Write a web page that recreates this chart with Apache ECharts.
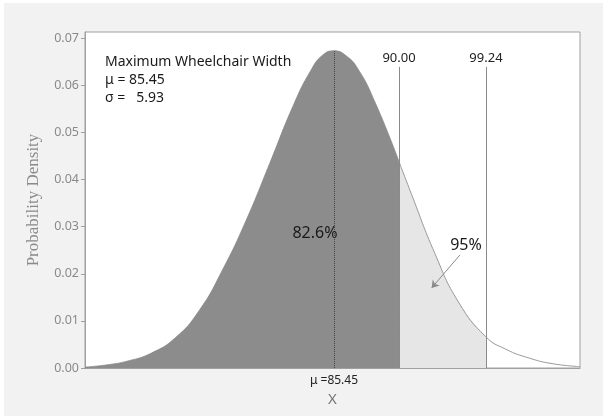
<!DOCTYPE html>
<html><head><meta charset="utf-8">
<script src="https://cdn.jsdelivr.net/npm/echarts@6/dist/echarts.min.js"></script>
<style>
html,body{margin:0;padding:0;background:#ffffff;}
#c{position:absolute;left:4px;top:3px;width:599px;height:413px;}
</style></head>
<body><div id="c"></div>
<script>
// Curve: x (data units) and probability density
const curveX = [64.35, 66, 68, 70, 72, 74, 76, 78, 80, 82, 83.5, 84.5, 85.45, 86.4, 87.5, 89, 90.96, 92, 94, 96, 98.33, 100, 102, 104, 106.30];
const curveY = [0.0002, 0.0006, 0.0015, 0.0032, 0.0064, 0.0121, 0.0208, 0.0313, 0.0434, 0.0557, 0.0632, 0.0664, 0.0673, 0.0664, 0.0634, 0.0560, 0.0438, 0.0370, 0.0243, 0.0140, 0.0066, 0.0040, 0.0021, 0.0009, 0.0003];
const mu = 85.45;
const peak = 0.0673;
const lineXs = [90.96, 98.33];
const lineLabels = ['90.00', '99.24'];
const lineTop = 0.0639;
const yTicks = [0, 0.01, 0.02, 0.03, 0.04, 0.05, 0.06, 0.07];
const infoLines = ['Maximum Wheelchair Width', 'μ = 85.45', 'σ =   5.93'];
const pctLeft = {x: 83.84, y: 0.0286, text: '82.6%'};
const pctRight = {x: 96.64, y: 0.0261, text: '95%'};
const arrowFrom = [96.13, 0.0240];
const arrowTo = [93.73, 0.0170];
const xMin = 64.35, xMax = 106.30, yMax = 0.0713;

const pts = curveX.map((x, i) => [x, curveY[i]]);
const darkPts = pts.filter(p => p[0] <= lineXs[0]);
const lightPts = pts.filter(p => p[0] >= lineXs[0] && p[0] <= lineXs[1]);
const rightPts = pts.filter(p => p[0] >= lineXs[0]);

const FONT = 'Noto Sans';
const chart = echarts.init(document.getElementById('c'));
chart.setOption({
  backgroundColor: '#f2f2f2',
  animation: false,
  title: {
    text: infoLines.join('\n'),
    left: 101, top: 50, padding: 0,
    textStyle: {fontFamily: FONT, fontSize: 14, fontWeight: 'normal', color: '#1a1a1a', lineHeight: 18}
  },
  grid: {left: 81, top: 29, right: 23, bottom: 48, show: true, backgroundColor: '#ffffff', borderColor: '#a0a0a0', borderWidth: 1},
  xAxis: {
    type: 'value', min: xMin, max: xMax,
    name: 'X', nameLocation: 'middle', nameGap: 23,
    nameTextStyle: {fontFamily: FONT, fontSize: 15, color: '#777777'},
    axisLine: {lineStyle: {color: '#a0a0a0'}},
    axisTick: {show: false},
    splitLine: {show: false},
    axisLabel: {customValues: [mu], formatter: () => 'μ =85.45', margin: 7, fontFamily: FONT, fontSize: 12, color: '#222222'}
  },
  yAxis: {
    type: 'value', min: 0, max: yMax, interval: 0.01,
    name: 'Probability Density', nameLocation: 'middle', nameGap: 43, nameRotate: 90,
    nameTextStyle: {fontFamily: 'Liberation Serif', fontSize: 17, color: '#8a8a8a'},
    axisLine: {show: true, lineStyle: {color: '#a0a0a0'}},
    axisTick: {show: true, length: 4, lineStyle: {color: '#a0a0a0'}, customValues: yTicks},
    splitLine: {show: false},
    axisLabel: {customValues: yTicks, formatter: v => v.toFixed(2), margin: 6, fontFamily: FONT, fontSize: 12.5, color: '#8a8a8a'}
  },
  series: [
    {
      type: 'line', data: darkPts, smooth: 0.5, showSymbol: false,
      lineStyle: {width: 0.8, color: '#8a8a8a'}, areaStyle: {color: '#8c8c8c', opacity: 1}, z: 2,
      markLine: {
        silent: true, symbol: ['none', 'none'],
        lineStyle: {type: 'dotted', color: '#444444', width: 1},
        label: {show: false},
        data: [[{coord: [mu, 0]}, {coord: [mu, peak]}]]
      }
    },
    {
      type: 'line', data: lightPts, smooth: 0.5, showSymbol: false,
      lineStyle: {width: 0}, areaStyle: {color: '#e6e6e6', opacity: 1}, z: 2
    },
    {
      type: 'line', data: rightPts, smooth: 0.5, showSymbol: false,
      lineStyle: {width: 1, color: '#999999'}, z: 3,
      markLine: {
        silent: true, symbol: ['none', 'none'],
        lineStyle: {type: 'solid', color: '#8a8a8a', width: 1},
        label: {show: true, position: 'end', distance: 2, fontFamily: FONT, fontSize: 13, color: '#222222'},
        data: lineXs.map((x, i) => [
          {coord: [x, 0]},
          {coord: [x, lineTop], label: {formatter: lineLabels[i]}}
        ]).concat([[
          {coord: arrowFrom, symbol: 'none', lineStyle: {color: '#8a8a8a', width: 1}, label: {show: false}},
          {coord: arrowTo, symbol: 'arrow', symbolSize: 7, label: {show: false}}
        ]])
      },
      markPoint: {
        silent: true, symbol: 'rect', symbolSize: 1, itemStyle: {color: 'rgba(0,0,0,0)'},
        label: {show: true, position: 'inside', fontFamily: FONT, fontSize: 16, color: '#1a1a1a', formatter: p => p.name},
        data: [
          {name: pctLeft.text, coord: [pctLeft.x, pctLeft.y]},
          {name: pctRight.text, coord: [pctRight.x, pctRight.y]}
        ]
      }
    }
  ]
});
</script></body></html>
